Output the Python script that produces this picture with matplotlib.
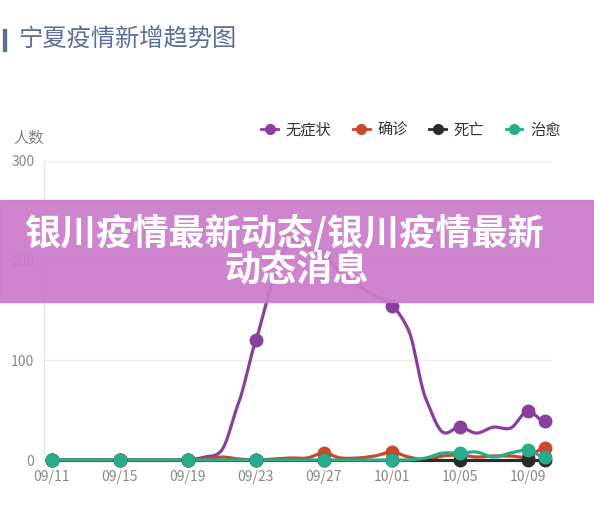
import numpy as np
import matplotlib
matplotlib.use("Agg")
import matplotlib.pyplot as plt
from matplotlib.patches import Rectangle
from matplotlib.lines import Line2D

plt.rcParams['font.family'] = ['Noto Sans CJK SC', 'DejaVu Sans']

# 09/11 .. 10/10, one value per day
dates = ['09/11', '09/12', '09/13', '09/14', '09/15', '09/16', '09/17', '09/18',
         '09/19', '09/20', '09/21', '09/22', '09/23', '09/24', '09/25', '09/26',
         '09/27', '09/28', '09/29', '09/30', '10/01', '10/02', '10/03', '10/04',
         '10/05', '10/06', '10/07', '10/08', '10/09', '10/10']
asymptomatic = [0, 0, 0, 0, 0, 0, 0, 0, 0, 3, 10, 58, 120, 178, 220, 212,
                205, 188, 175, 165, 155, 130, 62, 28, 33, 27, 33, 32, 49, 39]
confirmed = [0, 0, 0, 0, 0, 0, 0, 0, 0, 1, 3, 1, 0, 1, 2, 2,
             7, 2, 2, 4, 8, 3, 0, 4, 5, 3, 4, 4, 3, 12]
deaths = [0] * 30
cured = [0, 0, 0, 0, 0, 0, 0, 0, 0, 0, 0, 0, 0, 0, 0, 0,
         0, 0, 0, 0, 0, 0, 2, 7, 7, 8, 3, 7, 10, 3]

series = [('无症状', asymptomatic, '#8a3f9f'),
          ('确诊', confirmed, '#c84a2c'),
          ('死亡', deaths, '#2b2b2b'),
          ('治愈', cured, '#27ad8c')]
marker_idx = [0, 4, 8, 12, 16, 20, 24, 28, 29]
tick_idx = [0, 4, 8, 12, 16, 20, 24, 28]


def smooth(y, n=12, k=0.4):
    # cubic hermite with damped catmull-rom tangents
    y = np.asarray(y, float)
    x = np.arange(len(y))
    m = np.zeros_like(y)
    m[1:-1] = (y[2:] - y[:-2]) * k
    xs, ys = [], []
    for i in range(len(y) - 1):
        t = np.linspace(0, 1, n, endpoint=False)
        h00 = 2 * t**3 - 3 * t**2 + 1
        h10 = t**3 - 2 * t**2 + t
        h01 = -2 * t**3 + 3 * t**2
        h11 = t**3 - t**2
        xs.append(x[i] + t)
        ys.append(h00 * y[i] + h10 * m[i] + h01 * y[i + 1] + h11 * m[i + 1])
    xs.append([x[-1]])
    ys.append([y[-1]])
    return np.concatenate(xs), np.concatenate(ys)


fig = plt.figure(figsize=(5.94, 5.05), dpi=100)
W, H = 594, 505
ax = fig.add_axes([44 / W, 1 - 460 / H, (553 - 44) / W, (460 - 161) / H])

for name, vals, color in series:
    xs, ys = smooth(vals)
    ax.plot(xs, ys, color=color, lw=2.3, solid_capstyle='round', clip_on=False)
    ax.plot(marker_idx, [vals[i] for i in marker_idx], 'o', color=color,
            ms=9, clip_on=False, zorder=3)

ax.set_xlim(-0.47, 29.5)
ax.set_ylim(0, 300)
ax.set_yticks([0, 100, 200, 300])
ax.set_xticks(tick_idx)
ax.set_xticklabels([dates[i] for i in tick_idx])
ax.tick_params(length=0, labelsize=10, colors='#888888', pad=7)
ax.grid(axis='y', color='#eeeeee', lw=1)
ax.set_axisbelow(True)
for s in ['top', 'right', 'bottom']:
    ax.spines[s].set_visible(False)
ax.spines['left'].set_color('#e6e6e6')

fig.text(13 / W, 1 - 138 / H, '人数', fontsize=11, color='#808080', va='center')

# title with a small bar on the left
fig.add_artist(Rectangle((3 / W, 1 - 51 / H), 3 / W, 22 / H, color='#5d6f99',
                         transform=fig.transFigure))
fig.text(18 / W, 1 - 40 / H, '宁夏疫情新增趋势图', fontsize=17.5, color='#5d6f99',
         va='center')

# legend
handles = [Line2D([0], [0], color=c, lw=2, marker='o', ms=7) for _, _, c in series]
fig.legend(handles, [n for n, _, _ in series], loc='center', ncol=4,
           bbox_to_anchor=(411 / W, 1 - 130 / H), frameon=False, fontsize=11,
           handlelength=1.1, handletextpad=0.5, columnspacing=1.4,
           labelcolor='#333333')

# banner overlay
fig.add_artist(Rectangle((0, 1 - 302 / H), 1, 102 / H, color='#cc7ccb', alpha=0.93,
                         transform=fig.transFigure, zorder=10))
fig.text(285 / W, 1 - 234 / H, '银川疫情最新动态/银川疫情最新', fontsize=26,
         fontweight='heavy', color='white', ha='center', va='center', zorder=11)
fig.text(297 / W, 1 - 270 / H, '动态消息', fontsize=26, fontweight='heavy',
         color='white', ha='center', va='center', zorder=11)

fig.savefig('out.png', dpi=100)
